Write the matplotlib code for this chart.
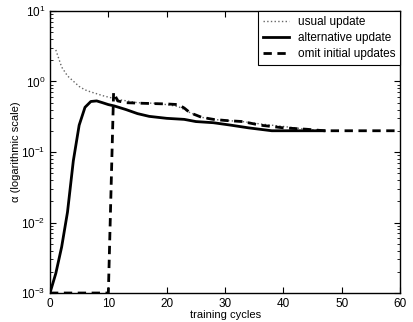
import numpy as np
import matplotlib
matplotlib.use("Agg")
from matplotlib import pyplot as plt
from matplotlib.ticker import LogLocator, NullFormatter

plt.rcParams['font.family'] = ['Liberation Sans', 'DejaVu Sans']
plt.rcParams['mathtext.fontset'] = 'custom'
plt.rcParams['mathtext.rm'] = 'Liberation Sans'
plt.rcParams['mathtext.it'] = 'Liberation Sans:italic'
plt.rcParams['font.size'] = 8

# usual update (dotted)
usual_x = [1, 2, 3, 3.5, 5, 6, 7, 8, 9, 10, 12, 15, 18, 20, 22, 23, 24, 26, 28, 30, 33, 36, 40, 44, 47]
usual_y = [2.8, 1.6, 1.2, 1.1, 0.85, 0.76, 0.71, 0.67, 0.63, 0.6, 0.55, 0.5, 0.49, 0.47, 0.44, 0.4, 0.36,
           0.31, 0.29, 0.28, 0.27, 0.25, 0.23, 0.21, 0.2]

# alternative update (solid)
alt_x = [0, 1, 2, 3, 4, 5, 6, 7, 8, 9, 10, 11, 13, 15, 17, 20, 23, 25, 28, 31, 34, 38, 42, 47]
alt_y = [0.001, 0.0019, 0.0045, 0.014, 0.075, 0.24, 0.43, 0.52, 0.53, 0.5, 0.47, 0.45, 0.4, 0.35, 0.32,
         0.3, 0.29, 0.27, 0.26, 0.24, 0.22, 0.2, 0.2, 0.2]

# omit initial updates (dashed)
omit_x = [0, 10, 10.9, 11.6, 13, 16, 20, 22, 23, 24, 26, 28, 30, 33, 36, 40, 44, 47, 52, 56, 60]
omit_y = [0.001, 0.001, 0.7, 0.53, 0.5, 0.49, 0.48, 0.47, 0.42, 0.36, 0.31, 0.29, 0.28, 0.27, 0.24,
          0.22, 0.21, 0.2, 0.2, 0.2, 0.2]

fig = plt.figure(figsize=(4.13, 3.22), dpi=100)
ax = fig.add_axes([0.121, 0.090, 0.848, 0.876])

ax.semilogy(usual_x, usual_y, ':', color='#666666', lw=1.0, label='usual update')
ax.semilogy(alt_x, alt_y, '-', color='black', lw=2.0, label='alternative update')
ax.semilogy(omit_x, omit_y, '--', color='black', lw=2.0, dashes=(3, 2), label='omit initial updates')

ax.set_xlim(0, 60)
ax.set_ylim(1e-3, 1e1)
ax.set_xticks([0, 10, 20, 30, 40, 50, 60])
ax.yaxis.set_major_locator(LogLocator(base=10, numticks=10))
ax.yaxis.set_minor_locator(LogLocator(base=10, subs=np.arange(2, 10), numticks=10))
ax.yaxis.set_minor_formatter(NullFormatter())
ax.tick_params(which='both', direction='in', top=True, right=True, labelsize=8.5)
ax.tick_params(which='major', length=4)
ax.tick_params(which='minor', length=2)
for s in ax.spines.values():
    s.set_linewidth(1.0)

ax.set_xlabel('training cycles', fontsize=8, labelpad=0)
ax.set_ylabel('α (logarithmic scale)', fontsize=8, labelpad=0)

leg = ax.legend(loc='upper right', borderaxespad=0, fancybox=False, edgecolor='black',
                framealpha=1, fontsize=8.5, handlelength=2.2, borderpad=0.4, labelspacing=0.35)
leg.get_frame().set_linewidth(0.8)

fig.savefig('out.png', dpi=100)
